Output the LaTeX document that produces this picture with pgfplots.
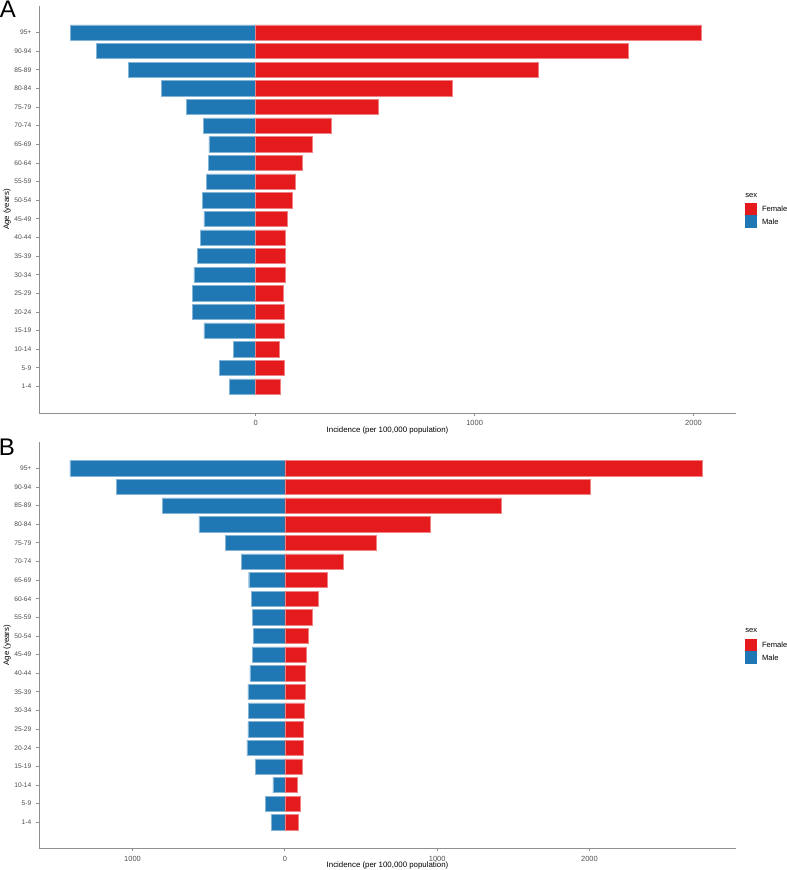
\documentclass[border=0pt]{standalone}
\usepackage{pgfplots}
\pgfplotsset{compat=1.18}
\usepackage{pgfplotstable}
\usepackage{fontspec}
\setmainfont{Liberation Sans}
\definecolor{fem}{HTML}{E41A1C}
\definecolor{mal}{HTML}{1F78B4}
\definecolor{axgray}{HTML}{8F8F8F}
\definecolor{txtgray}{HTML}{4D4D4D}

\pgfplotstableread{
idx male female
0 -121 113
1 -167 129
2 -103 109
3 -237 130
4 -289 130
5 -289 127
6 -282 133
7 -267 135
8 -253 136
9 -237 142
10 -244 165
11 -225 182
12 -217 211
13 -214 258
14 -240 343
15 -316 561
16 -432 897
17 -582 1289
18 -728 1701
19 -846 2035
}\dataA

\pgfplotstableread{
idx male female
0 -90 85
1 -128 101
2 -79 79
3 -195 112
4 -250 120
5 -243 120
6 -239 125
7 -243 136
8 -230 136
9 -215 138
10 -208 151
11 -213 182
12 -220 219
13 -237 276
14 -287 382
15 -391 599
16 -564 956
17 -805 1423
18 -1108 2004
19 -1411 2739
}\dataB

\pgfplotsset{pyr/.style={
  scale only axis, width=522.75pt,
  xbar, bar width=0.82, bar shift=0pt,
  axis lines=left,
  axis line style={axgray, line width=0.6pt, -},
  tick style={axgray, line width=0.6pt},
  major tick length=2.2pt, tick align=outside,
  ytick={0,...,19},
  yticklabels={1-4,5-9,10-14,15-19,20-24,25-29,30-34,35-39,40-44,45-49,50-54,55-59,60-64,65-69,70-74,75-79,80-84,85-89,90-94,95+},
  yticklabel style={font=\fontsize{5}{6}\selectfont, text=txtgray},
  xticklabel style={font=\fontsize{5.6}{6.5}\selectfont, text=txtgray},
  xlabel={Incidence (per 100,000 population)},
  ylabel={Age (years)},
  label style={font=\fontsize{5.9}{7}\selectfont, text=black},
  xlabel style={at={(axis description cs:0.5,-0.042)}, anchor=center},
  ylabel style={at={(axis description cs:-0.0459,0.5)}, anchor=center},
  scaled x ticks=false,
  clip=false,
}}

\begin{document}
\begin{tikzpicture}
\useasboundingbox (0,0) rectangle (590.25pt,652.5pt);

\begin{axis}[pyr,
  at={(29.25pt,342.75pt)}, anchor=south west,
  height=305.25pt,
  xmin=-990, xmax=2194, ymin=-1.42, ymax=20.42,
  xtick={0,1000,2000}, xticklabels={0,1000,2000}]
\addplot[fill=mal, draw=mal!55!white, line width=0.35pt] table[x=male, y=idx] {\dataA};
\addplot[fill=fem, draw=fem!55!white, line width=0.35pt] table[x=female, y=idx] {\dataA};
\end{axis}

\begin{axis}[pyr,
  at={(29.25pt,16.275pt)}, anchor=south west,
  height=304.7pt,
  xmin=-1614, xmax=2962, ymin=-1.395, ymax=20.41,
  xtick={-1000,0,1000,2000}, xticklabels={1000,0,1000,2000}]
\addplot[fill=mal, draw=mal!55!white, line width=0.35pt] table[x=male, y=idx] {\dataB};
\addplot[fill=fem, draw=fem!55!white, line width=0.35pt] table[x=female, y=idx] {\dataB};
\end{axis}

% panel letters
\node[font=\fontsize{18}{20}\selectfont, inner sep=0pt] at (6pt,645.4pt) {A};
\node[font=\fontsize{18}{20}\selectfont, inner sep=0pt] at (5.25pt,317.25pt) {B};

% legends
\begin{scope}[font=\fontsize{5.7}{6.5}\selectfont]
\node[anchor=west, inner sep=0pt, text=black] at (558.75pt,505.7pt) {sex};
\fill[fem] (558.75pt,491.5pt) rectangle (568pt,500.5pt);
\fill[mal] (558.75pt,481.7pt) rectangle (568pt,491.0pt);
\node[anchor=west, inner sep=0pt, text=black] at (571.3pt,496pt) {Female};
\node[anchor=west, inner sep=0pt, text=black] at (571.3pt,486.4pt) {Male};

\node[anchor=west, inner sep=0pt, text=black] at (558.75pt,179.5pt) {sex};
\fill[fem] (558.75pt,164.5pt) rectangle (568pt,173.25pt);
\fill[mal] (558.75pt,154.7pt) rectangle (568pt,164.0pt);
\node[anchor=west, inner sep=0pt, text=black] at (571.3pt,168.9pt) {Female};
\node[anchor=west, inner sep=0pt, text=black] at (571.3pt,159.4pt) {Male};
\end{scope}
\end{tikzpicture}
\end{document}
